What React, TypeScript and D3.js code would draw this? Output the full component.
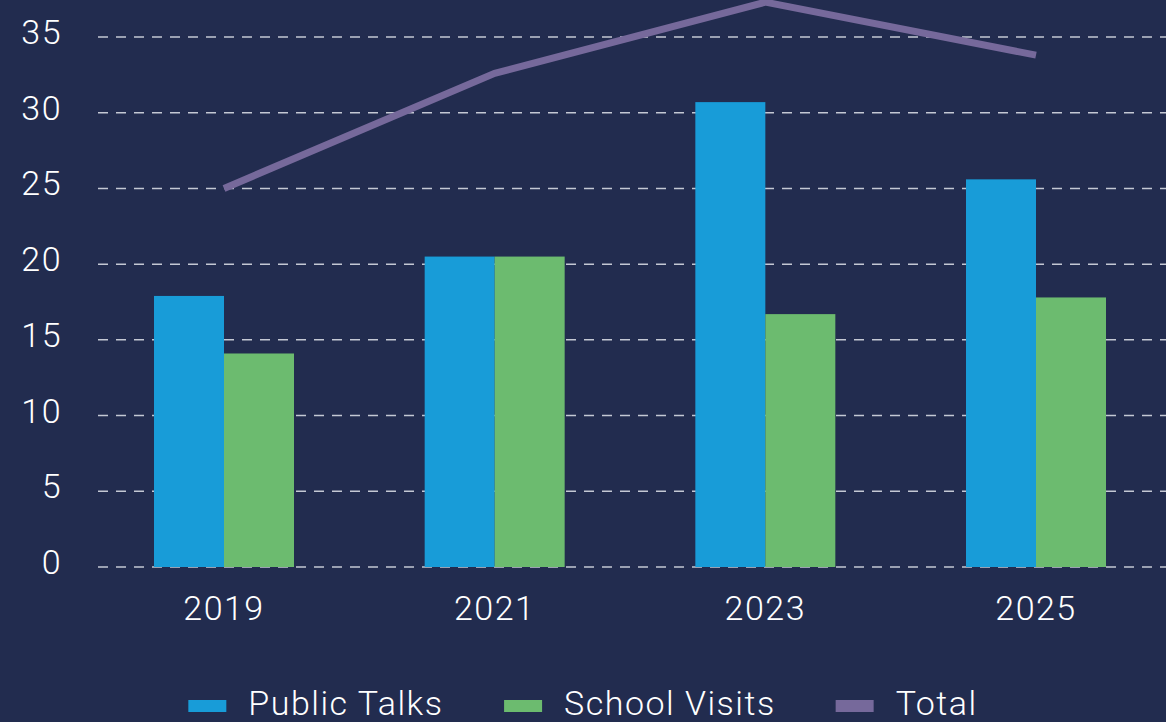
import React from "react";
import * as d3 from "d3";

const years = ["2019", "2021", "2023", "2025"];
const publicTalks = [17.9, 20.5, 30.7, 25.6];
const schoolVisits = [14.1, 20.5, 16.7, 17.8];
const totals = [25.0, 32.6, 37.3, 33.8];
const yTicks = [0, 5, 10, 15, 20, 25, 30, 35];
const seriesNames = ["Public Talks", "School Visits", "Total"];
const seriesColors = ["#189cd8", "#6cbb6f", "#76699b"];

const W = 1166;
const H = 722;
const BG = "#222c4f";
const FONT = "Roboto, 'DejaVu Sans', sans-serif";
const FS = 34;
const LS = 1.5;
const FW = 300;

function measure(text: string): number {
  const c = document.createElement("canvas").getContext("2d");
  if (!c) return text.length * FS * 0.5;
  c.font = `${FW} ${FS}px Roboto`;
  return c.measureText(text).width + LS * text.length;
}

export default function App() {
  const y = d3.scaleLinear().domain([0, 35]).range([567, 37]);
  const x = d3.scalePoint<string>().domain(years).range([224, 1036]);
  const barW = 70;
  const gridX0 = 98;

  const line = d3
    .line<number>()
    .x((_, i) => x(years[i]) as number)
    .y((d) => y(d));

  const swW = 38, swH = 12, swGap = 22, itemGap = 60;
  const widths = seriesNames.map((n) => measure(n));
  const total = widths.reduce((a, w) => a + swW + swGap + w, 0) + itemGap * (seriesNames.length - 1);
  let cursor = W / 2 - total / 2;
  const legendItems = seriesNames.map((n, i) => {
    const item = { name: n, x: cursor, color: seriesColors[i] };
    cursor += swW + swGap + widths[i] + itemGap;
    return item;
  });

  return (
    <svg
      width={W}
      height={H}
      style={{ position: "absolute", left: 0, top: 0, display: "block", background: BG }}
      fontFamily={FONT}
      fontWeight={FW}
    >
      <rect x={0} y={0} width={W} height={H} fill={BG} />
      {yTicks.map((t) => (
        <g key={t}>
          <line
            x1={gridX0}
            x2={W}
            y1={y(t)}
            y2={y(t)}
            stroke="#c4c8d4"
            strokeWidth={1.5}
            strokeDasharray="10 8"
          />
          <text
            x={62}
            y={y(t) + 7}
            textAnchor="end"
            fill="#ffffff"
            fontSize={FS}
            letterSpacing={LS}
          >
            {t}
          </text>
        </g>
      ))}
      {years.map((yr, i) => {
        const cx = x(yr) as number;
        return (
          <g key={yr}>
            <rect
              x={cx - barW}
              y={y(publicTalks[i])}
              width={barW}
              height={y(0) - y(publicTalks[i])}
              fill={seriesColors[0]}
            />
            <rect
              x={cx}
              y={y(schoolVisits[i])}
              width={barW}
              height={y(0) - y(schoolVisits[i])}
              fill={seriesColors[1]}
            />
            <text
              x={cx}
              y={620}
              textAnchor="middle"
              fill="#ffffff"
              fontSize={FS}
              letterSpacing={LS}
            >
              {yr}
            </text>
          </g>
        );
      })}
      <path d={line(totals) || ""} fill="none" stroke={seriesColors[2]} strokeWidth={7} />
      {legendItems.map((it) => (
        <g key={it.name}>
          <rect x={it.x} y={700} width={swW} height={swH} fill={it.color} />
          <text x={it.x + swW + swGap} y={715} fill="#ffffff" fontSize={FS} letterSpacing={LS}>
            {it.name}
          </text>
        </g>
      ))}
    </svg>
  );
}
